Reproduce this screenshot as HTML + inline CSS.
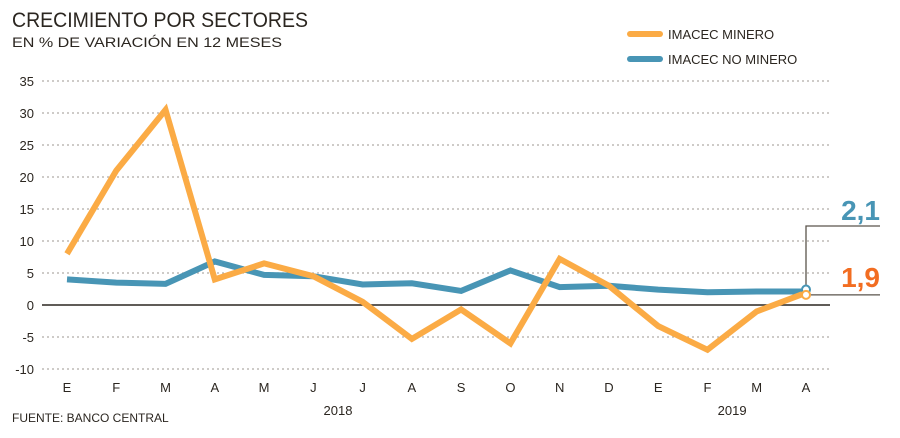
<!DOCTYPE html>
<html><head><meta charset="utf-8"><style>
body{margin:0;background:#fff;}
svg text{font-family:"Liberation Sans",sans-serif;}
</style></head><body>
<svg width="900" height="433" viewBox="0 0 900 433" id="c">
<text x="12" y="27" font-size="21" fill="#2b2620" textLength="296" lengthAdjust="spacingAndGlyphs">CRECIMIENTO POR SECTORES</text>
<text x="12" y="47" font-size="14" fill="#2b2620" textLength="270" lengthAdjust="spacingAndGlyphs">EN % DE VARIACIÓN EN 12 MESES</text>
<g>
<line x1="630" y1="34" x2="660" y2="34" stroke="#fbab45" stroke-width="6" stroke-linecap="round"/>
<text x="668" y="39" font-size="13" fill="#2b2620">IMACEC MINERO</text>
<line x1="630" y1="59" x2="660" y2="59" stroke="#4895b5" stroke-width="6" stroke-linecap="round"/>
<text x="668" y="64" font-size="13" fill="#2b2620">IMACEC NO MINERO</text>
</g>
<g id="grid"></g><g id="series"></g>
<text x="12" y="422" font-size="12" fill="#2b2620">FUENTE: BANCO CENTRAL</text>
</svg>
<script>
const months=["E","F","M","A","M","J","J","A","S","O","N","D","E","F","M","A"];
const yTicks=[35,30,25,20,15,10,5,0,-5,-10];
const minero=[8,21,30.5,4,6.5,4.5,0.5,-5.3,-0.7,-6,7.2,3,-3.3,-7,-1,1.9];
const noMinero=[4,3.5,3.3,6.8,4.7,4.5,3.2,3.4,2.2,5.4,2.8,3,2.4,2.0,2.1,2.1];
const years=[{label:"2018",at:5.5},{label:"2019",at:13.5}];
const NS="http://www.w3.org/2000/svg";
const x=i=>67+i*(806-67)/15;
const y=v=>305-v*6.4;
const g=document.getElementById('grid'),s=document.getElementById('series');
function mk(p,tag,a){const e=document.createElementNS(NS,tag);for(const k in a)e.setAttribute(k,a[k]);p.appendChild(e);return e;}
yTicks.forEach(t=>{
 const l=mk(g,'line',{x1:42,x2:t===0?830:830,y1:y(t),y2:y(t),stroke:t===0?'#2b2620':'#b0aca6','stroke-width':t===0?1.5:1.2,'stroke-dasharray':t===0?'none':'2 3'});
 
 
 const tx=mk(g,'text',{x:34,y:y(t)+5,'font-size':13,fill:'#2b2620','text-anchor':'end'});tx.textContent=t;
 
 
});
months.forEach((m,i)=>{const t=mk(g,'text',{x:x(i),y:392,'font-size':13,fill:'#2b2620','text-anchor':'middle'});t.textContent=m;
 
 });
years.forEach(yr=>{const t=mk(g,'text',{x:x(yr.at),y:415,'font-size':13,fill:'#2b2620','text-anchor':'middle'});t.textContent=yr.label;
 
 });
function line(d,c,n){const p=mk(s,'polyline',{points:d.map((v,i)=>x(i)+','+y(v)).join(' '),fill:'none',stroke:c,'stroke-width':6,'stroke-linejoin':'miter','stroke-linecap':'butt'});
 
 }
line(noMinero,'#4895b5','series-no-minero');
line(minero,'#fbab45','series-minero');
const L=months.length-1;
const c1=mk(s,'path',{d:`M${x(L)},${y(noMinero[L])} V226 H880`,fill:'none',stroke:'#5a544c','stroke-width':1.3});


const c2=mk(s,'path',{d:`M${x(L)},${y(minero[L])+2} H880`,fill:'none',stroke:'#5a544c','stroke-width':1.3});


const p1=mk(s,'circle',{cx:x(L),cy:y(noMinero[L])-2,r:4,fill:'#fff',stroke:'#4895b5','stroke-width':2});


const p2=mk(s,'circle',{cx:x(L),cy:y(minero[L])+2,r:4,fill:'#fff',stroke:'#fbab45','stroke-width':2});


const v1=mk(s,'text',{x:880,y:220,'font-size':28,'font-weight':'bold',fill:'#4895b5','text-anchor':'end'});v1.textContent=String(noMinero[L]).replace('.',',');


const v2=mk(s,'text',{x:880,y:287,'font-size':28,'font-weight':'bold',fill:'#f26d21','text-anchor':'end'});v2.textContent=String(minero[L]).replace('.',',');


</script>
</body></html>
